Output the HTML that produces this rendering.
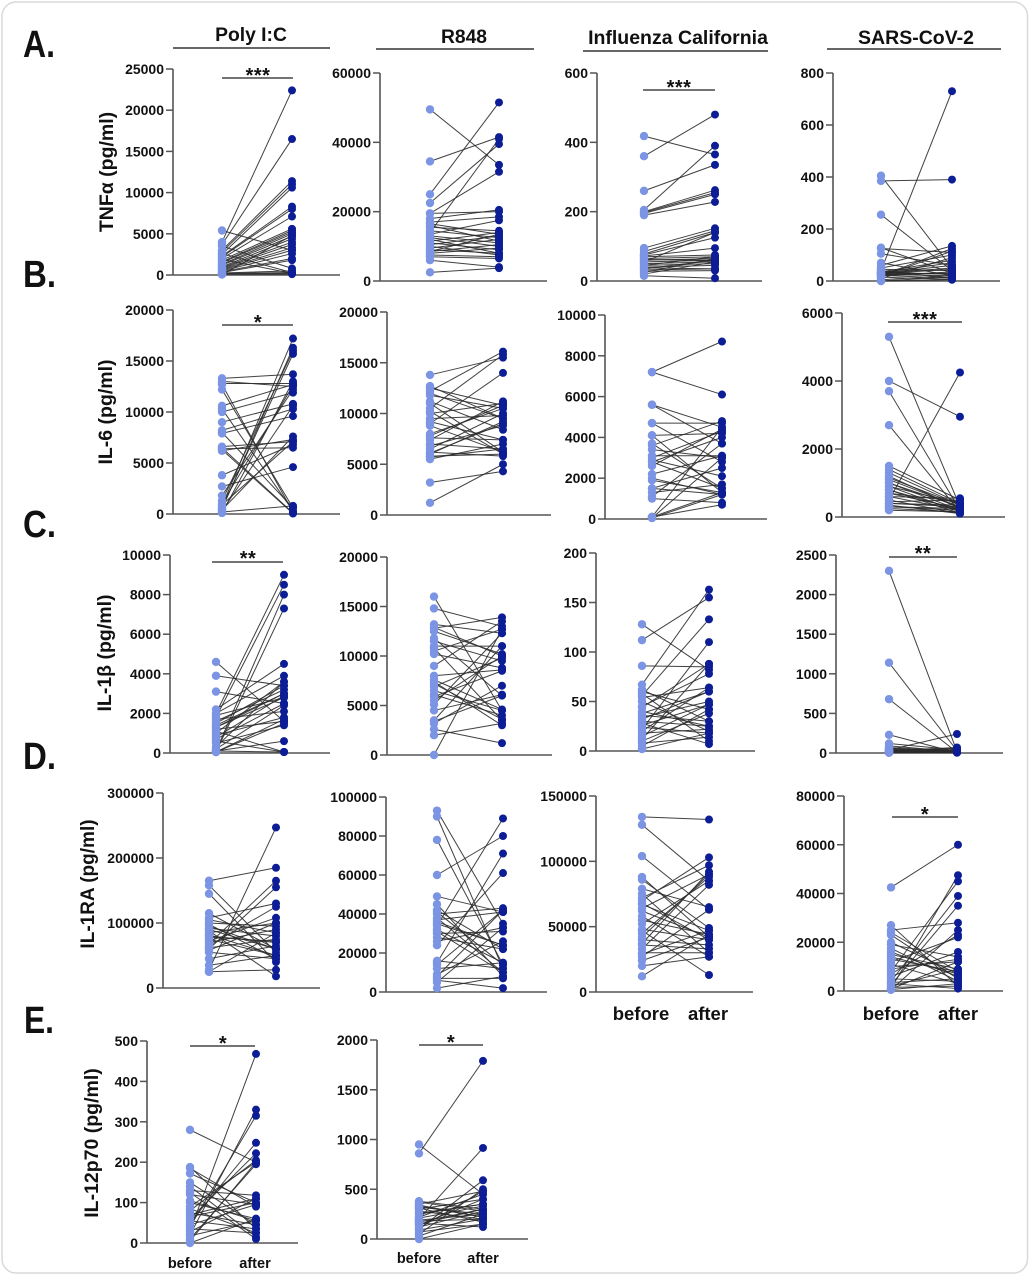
<!DOCTYPE html>
<html><head><meta charset="utf-8"><style>
html,body{margin:0;padding:0;background:#fff;}
svg{display:block;font-family:"Liberation Sans",Arial,sans-serif;font-weight:bold;}
</style></head><body>
<svg id="s" width="1030" height="1276" viewBox="0 0 1030 1276" xmlns="http://www.w3.org/2000/svg">
<rect x="2" y="2" width="1025.5" height="1271" rx="14" fill="#fff" stroke="#d9d9d9" stroke-width="1.5"/>
<g id="plots"></g>
<g fill="#111">
<!-- panel letters -->
<text x="23" y="57" font-size="38" textLength="32" lengthAdjust="spacingAndGlyphs">A.</text>
<text x="23" y="287" font-size="38" textLength="33" lengthAdjust="spacingAndGlyphs">B.</text>
<text x="23" y="537" font-size="38" textLength="33" lengthAdjust="spacingAndGlyphs">C.</text>
<text x="23" y="769" font-size="38" textLength="33" lengthAdjust="spacingAndGlyphs">D.</text>
<text x="24" y="1033" font-size="38" textLength="30" lengthAdjust="spacingAndGlyphs">E.</text>
<!-- headers -->
<text x="251" y="41" font-size="19.3" text-anchor="middle">Poly I:C</text>
<text x="464" y="43" font-size="19.3" text-anchor="middle">R848</text>
<text x="678" y="44" font-size="19.5" text-anchor="middle">Influenza California</text>
<text x="916" y="44" font-size="19.5" text-anchor="middle">SARS-CoV-2</text>
<!-- y titles -->
<g transform="translate(107,172) rotate(-90)"><text x="0" y="6" font-size="19.5" text-anchor="middle">TNFα (pg/ml)</text></g>
<g transform="translate(106,412) rotate(-90)"><text x="0" y="6" font-size="19.5" text-anchor="middle">IL-6 (pg/ml)</text></g>
<g transform="translate(105,653) rotate(-90)"><text x="0" y="6" font-size="19.5" text-anchor="middle">IL-1β (pg/ml)</text></g>
<g transform="translate(88,884) rotate(-90)"><text x="0" y="6" font-size="19" text-anchor="middle">IL-1RA (pg/ml)</text></g>
<g transform="translate(92,1143) rotate(-90)"><text x="0" y="6" font-size="19.5" text-anchor="middle">IL-12p70 (pg/ml)</text></g>
<!-- tick labels -->
<g font-size="14" text-anchor="end">
<text x="164" y="280">0</text><text x="164" y="238.8">5000</text><text x="164" y="197.6">10000</text><text x="164" y="156.4">15000</text><text x="164" y="115.2">20000</text><text x="164" y="74">25000</text>
<text x="371" y="286">0</text><text x="371" y="216.7">20000</text><text x="371" y="147.3">40000</text><text x="371" y="78">60000</text>
<text x="588" y="286">0</text><text x="588" y="216.7">200</text><text x="588" y="147.3">400</text><text x="588" y="78">600</text>
<text x="824" y="286">0</text><text x="824" y="234">200</text><text x="824" y="182">400</text><text x="824" y="130">600</text><text x="824" y="78">800</text>
<text x="164" y="519">0</text><text x="164" y="468">5000</text><text x="164" y="417">10000</text><text x="164" y="366">15000</text><text x="164" y="315">20000</text>
<text x="378" y="520">0</text><text x="378" y="469.3">5000</text><text x="378" y="418.5">10000</text><text x="378" y="367.8">15000</text><text x="378" y="317">20000</text>
<text x="596" y="524">0</text><text x="596" y="483.2">2000</text><text x="596" y="442.4">4000</text><text x="596" y="401.6">6000</text><text x="596" y="360.8">8000</text><text x="596" y="320">10000</text>
<text x="833" y="522">0</text><text x="833" y="454">2000</text><text x="833" y="386">4000</text><text x="833" y="318">6000</text>
<text x="161" y="758">0</text><text x="161" y="718.4">2000</text><text x="161" y="678.8">4000</text><text x="161" y="639.2">6000</text><text x="161" y="599.6">8000</text><text x="161" y="560">10000</text>
<text x="378" y="760">0</text><text x="378" y="710.5">5000</text><text x="378" y="661">10000</text><text x="378" y="611.5">15000</text><text x="378" y="562">20000</text>
<text x="587" y="756">0</text><text x="587" y="706.5">50</text><text x="587" y="657">100</text><text x="587" y="607.5">150</text><text x="587" y="558">200</text>
<text x="827" y="758">0</text><text x="827" y="718.4">500</text><text x="827" y="678.8">1000</text><text x="827" y="639.2">1500</text><text x="827" y="599.6">2000</text><text x="827" y="560">2500</text>
<text x="154" y="993">0</text><text x="154" y="928">100000</text><text x="154" y="863">200000</text><text x="154" y="798">300000</text>
<text x="377" y="997">0</text><text x="377" y="958">20000</text><text x="377" y="919">40000</text><text x="377" y="880">60000</text><text x="377" y="841">80000</text><text x="377" y="802">100000</text>
<text x="587" y="997">0</text><text x="587" y="931.7">50000</text><text x="587" y="866.3">100000</text><text x="587" y="801">150000</text>
<text x="835" y="996">0</text><text x="835" y="947.3">20000</text><text x="835" y="898.5">40000</text><text x="835" y="849.8">60000</text><text x="835" y="801">80000</text>
<text x="138" y="1248">0</text><text x="138" y="1207.6">100</text><text x="138" y="1167.2">200</text><text x="138" y="1126.8">300</text><text x="138" y="1086.4">400</text><text x="138" y="1046">500</text>
<text x="368" y="1244">0</text><text x="368" y="1194.3">500</text><text x="368" y="1144.5">1000</text><text x="368" y="1094.8">1500</text><text x="368" y="1045">2000</text>
</g>
<!-- significance asterisks -->
<g font-size="20" text-anchor="middle" letter-spacing="0.5">
<text x="258" y="82">***</text>
<text x="679" y="94">***</text>
<text x="258" y="329">*</text>
<text x="925" y="326">***</text>
<text x="248" y="565">**</text>
<text x="923" y="560">**</text>
<text x="925" y="821">*</text>
<text x="223" y="1050">*</text>
<text x="451" y="1049">*</text>
</g>
<!-- before/after labels -->
<g font-size="18.5" text-anchor="middle">
<text x="641" y="1020">before</text><text x="708" y="1020">after</text>
<text x="891" y="1020">before</text><text x="958" y="1020">after</text>
</g>
<g font-size="14.5" text-anchor="middle">
<text x="190" y="1268">before</text><text x="255" y="1268">after</text>
<text x="419" y="1263">before</text><text x="483" y="1263">after</text>
</g>
</g>
<!-- header underlines and sig bars -->
<g stroke="#333" stroke-width="1.5">
<line x1="173" y1="48" x2="330" y2="48"/>
<line x1="376" y1="49" x2="534" y2="49"/>
<line x1="583" y1="51" x2="768" y2="51"/>
<line x1="827" y1="49" x2="1001" y2="49"/>
</g>
<g stroke="#222" stroke-width="1.2">
<line x1="222" y1="78" x2="293" y2="78"/>
<line x1="643" y1="90" x2="715" y2="90"/>
<line x1="222" y1="325" x2="293" y2="325"/>
<line x1="888" y1="322" x2="962" y2="322"/>
<line x1="212" y1="562" x2="283" y2="562"/>
<line x1="889" y1="557" x2="957" y2="557"/>
<line x1="892" y1="817" x2="958" y2="817"/>
<line x1="190" y1="1046" x2="255" y2="1046"/>
<line x1="419" y1="1045" x2="483" y2="1045"/>
</g>
</svg>
<script>
var P=[
{ax:173,x1:340,yt:69,y0:275,max:25000,step:5000,bx:222,af:292,d:[[5400,3000],[4000,22400],[3700,16500],[3500,800],[3000,11400],[2800,11000],[2500,10600],[2300,8300],[2200,8000],[2000,7100],[1800,5600],[1600,5400],[1500,5200],[1300,5000],[1200,4700],[1000,4400],[900,4000],[800,3700],[700,3300],[600,3000],[500,2600],[400,2000],[300,1800],[250,500],[200,300],[150,200],[100,100],[50,4800],[2600,300],[1900,200]]},
{ax:380,x1:547,yt:73,y0:281,max:60000,step:20000,bx:430,af:499,d:[[49500,33500],[34500,41500],[25000,51500],[22500,39500],[19500,31500],[19500,20000],[18000,20500],[17000,18500],[16500,13500],[15500,14500],[14500,12500],[13500,17500],[13000,11000],[12500,10000],[11500,14000],[11000,9000],[10500,13000],[10000,7500],[9500,12000],[9000,8000],[8500,10500],[8000,9500],[7500,7000],[7000,6500],[6000,4000],[2500,3700],[14000,41000],[16000,11500],[8500,13500],[12000,8000]]},
{ax:597,x1:762,yt:73,y0:281,max:600,step:200,bx:644,af:715,d:[[418,365],[360,480],[260,335],[205,390],[200,262],[198,255],[195,250],[190,228],[95,152],[85,145],[78,140],[75,125],[72,95],[70,75],[65,70],[60,65],[55,60],[50,55],[45,50],[40,45],[35,60],[32,35],[28,30],[25,65],[20,55],[15,8],[45,70],[55,140],[38,35],[62,60]]},
{ax:833,x1:1000,yt:73,y0:281,max:800,step:200,bx:881,af:952,d:[[405,50],[385,390],[255,40],[128,30],[125,110],[105,60],[70,20],[60,135],[50,100],[45,40],[40,730],[35,80],[32,70],[30,50],[28,30],[25,20],[22,10],[20,125],[18,115],[15,5],[10,90],[5,20],[0,15],[30,60],[25,30],[35,25],[40,10],[28,45],[20,35],[0,5]]},
{ax:173,x1:340,yt:310,y0:514,max:20000,step:5000,bx:222,af:293,d:[[13300,13700],[13000,12500],[12700,200],[12200,600],[10600,12700],[10300,300],[10000,11900],[9000,10800],[8200,10300],[7900,9600],[6600,7100],[6400,6500],[6200,7300],[6500,100],[3800,6800],[2700,4600],[1800,12200],[1300,16000],[800,17200],[600,15700],[500,16300],[300,10600],[100,13000],[200,800],[400,7600],[900,7100],[1000,12600],[6300,50],[8000,600],[12800,12800]]},
{ax:387,x1:551,yt:312,y0:515,max:20000,step:5000,bx:430,af:503,d:[[13800,15500],[12700,9500],[12200,16100],[11800,10500],[11200,8400],[10500,15800],[10000,11000],[9500,9800],[9000,14000],[8800,6200],[7800,10800],[7400,11200],[7000,6500],[6500,10000],[6200,5800],[6000,9200],[5800,6000],[5500,7000],[3200,4300],[1200,5000],[12000,9500],[9200,7400],[6800,8800],[10200,6000],[8000,10500],[6100,9000],[11000,6200],[5700,6500],[7600,7400],[12500,10800]]},
{ax:605,x1:767,yt:315,y0:519,max:10000,step:2000,bx:652,af:722,d:[[7200,8700],[7200,6100],[5600,4500],[5600,3700],[4700,4700],[4700,2800],[4100,4200],[4100,1300],[3600,4800],[3400,3000],[3000,4300],[2900,2100],[2800,1500],[2800,4000],[2200,3100],[2000,1200],[1500,2500],[1300,1700],[1000,800],[1100,3700],[100,4500],[100,1300],[50,1200],[50,3000],[100,700],[3700,1500],[3100,3100],[1900,1300],[2600,4400],[1500,1200]]},
{ax:842,x1:1005,yt:313,y0:517,max:6000,step:2000,bx:889,af:960,d:[[5300,300],[4000,2950],[3700,200],[2700,150],[1500,500],[1400,400],[1300,350],[1200,250],[1100,300],[1000,200],[900,150],[800,100],[700,450],[600,550],[500,4250],[400,300],[300,200],[200,150],[1000,300],[900,400],[700,250],[600,200],[500,100],[400,350],[300,250],[250,150],[1150,350],[800,200],[450,500],[350,100]]},
{ax:170,x1:330,yt:555,y0:753,max:10000,step:2000,bx:216,af:284,d:[[4600,1600],[3900,3400],[3100,2500],[2200,4500],[2000,9000],[1800,8500],[1600,3200],[1400,3000],[1300,2800],[1100,50],[900,1800],[700,2500],[500,1400],[300,3600],[100,8000],[50,7300],[50,1700],[100,600],[2000,3900],[1500,3400],[1200,1600],[800,2900],[600,50],[1900,2800],[1000,3600],[50,1500],[200,2400],[1700,2100],[100,50],[1300,3000]]},
{ax:387,x1:552,yt:557,y0:755,max:20000,step:5000,bx:434,af:502,d:[[16000,4500],[14800,13000],[13200,12300],[12800,13900],[12500,10200],[11800,6000],[11500,9500],[10800,3500],[10500,12700],[10200,8800],[9000,13500],[7600,4600],[7200,3600],[6900,9800],[6100,4000],[5900,8500],[5100,12300],[4500,6100],[3500,11000],[3200,7000],[2600,1200],[2000,3200],[0,12700],[12900,10000],[7400,3000],[5500,10000],[3400,6000],[11000,11000],[8000,8600],[6500,4500]]},
{ax:596,x1:755,yt:553,y0:751,max:200,step:50,bx:642,af:709,d:[[128,82],[112,155],[86,85],[67,163],[60,42],[56,133],[54,64],[45,78],[38,60],[34,50],[30,25],[26,47],[22,110],[18,22],[12,88],[8,14],[2,18],[10,38],[36,30],[50,20],[58,10],[28,7],[32,60],[20,64],[40,25],[15,47],[5,42],[24,18],[44,88],[62,30]]},
{ax:836,x1:1003,yt:555,y0:753,max:2500,step:500,bx:889,af:957,d:[[2300,20],[1140,30],[680,10],[230,5],[120,40],[60,10],[40,240],[30,70],[20,10],[10,5],[5,20],[25,10],[15,5],[8,30],[50,20],[35,15],[12,8],[70,25],[18,60],[45,12],[3,4],[28,35],[90,18],[22,50],[6,10]]},
{ax:163,x1:320,yt:793,y0:988,max:300000,step:100000,bx:209,af:276,d:[[165000,185000],[158000,55000],[145000,40000],[115000,60000],[108000,130000],[100000,95000],[98000,45000],[92000,80000],[85000,100000],[80000,70000],[75000,50000],[70000,90000],[65000,125000],[60000,155000],[45000,65000],[28000,247000],[25000,28000],[25000,85000],[62000,75000],[72000,108000],[88000,18000],[95000,60000],[68000,165000],[55000,45000],[105000,85000],[82000,50000],[58000,100000],[78000,72000],[90000,60000],[35000,50000]]},
{ax:386,x1:547,yt:797,y0:992,max:100000,step:20000,bx:437,af:503,d:[[93000,35000],[90000,12000],[78000,14000],[60000,80000],[49000,41000],[42000,22000],[40000,43000],[38000,10000],[36000,24000],[34000,89000],[32000,15000],[30000,31000],[24000,61000],[15000,71000],[14000,42000],[9000,26000],[7000,7000],[5000,33000],[2000,8000],[6000,2000],[41000,14000],[35000,24000],[28000,22000],[16000,12000],[31000,10000],[37000,41000],[8000,42000],[26000,33000],[12000,15000],[45000,8000]]},
{ax:596,x1:753,yt:796,y0:992,max:150000,step:50000,bx:642,af:709,d:[[134000,132000],[128000,85000],[104000,63000],[88000,42000],[86000,49000],[79000,65000],[72000,97000],[70000,103000],[67000,47000],[64000,90000],[55000,44000],[48000,40000],[45000,88000],[40000,36000],[37000,92000],[33000,82000],[30000,30000],[27000,63000],[24000,42000],[20000,27000],[12000,44000],[47000,13000],[36000,33000],[68000,40000],[52000,85000],[29000,47000],[42000,90000],[75000,30000],[58000,27000],[62000,42000]]},
{ax:844,x1:1003,yt:796,y0:991,max:80000,step:20000,bx:891,af:958,d:[[42500,60000],[27000,2000],[25000,28000],[23000,5000],[20000,7000],[17500,4000],[15000,9000],[12000,22000],[10000,12000],[8000,45000],[6000,16000],[4000,39000],[2500,35000],[1000,47500],[500,25000],[19000,14000],[11000,3000],[13000,8000],[7000,23000],[3000,1000],[16000,6000],[9000,13000],[5000,4000],[2000,9000],[1500,2000],[14000,7000],[24000,8000],[800,12000],[3500,5000],[600,3000]]},
{ax:147,x1:298,yt:1041,y0:1243,max:500,step:100,bx:190,af:256,d:[[280,200],[188,35],[172,100],[150,45],[130,118],[120,95],[105,55],[85,25],[80,205],[70,110],[60,222],[50,248],[40,315],[30,468],[20,330],[10,195],[0,60],[185,90],[140,15],[125,10],[90,200],[75,45],[65,100],[55,35],[45,95],[35,25],[28,110],[18,55],[100,60],[5,200]]},
{ax:377,x1:528,yt:1040,y0:1239,max:2000,step:500,bx:419,af:483,d:[[950,450],[860,1790],[380,300],[350,480],[320,250],[300,400],[250,350],[200,915],[180,200],[150,300],[100,590],[50,500],[0,150],[370,280],[340,220],[310,170],[280,200],[260,350],[220,450],[190,250],[170,300],[160,120],[140,400],[120,280],[90,200],[70,150],[30,250],[330,220],[210,330],[110,480]]}
];
var NS="http://www.w3.org/2000/svg";
var G=document.getElementById("plots");
function el(t,a,p){var e=document.createElementNS(NS,t);for(var k in a)e.setAttribute(k,a[k]);(p||G).appendChild(e);return e;}
P.forEach(function(p){
  var sc=(p.y0-p.yt)/p.max;
  function Y(v){return p.y0-v*sc;}
  var g=el("g",{});
  // axes
  el("line",{x1:p.ax,y1:p.yt,x2:p.ax,y2:p.y0,stroke:"#555","stroke-width":1.6},g);
  el("line",{x1:p.ax,y1:p.y0,x2:p.x1,y2:p.y0,stroke:"#555","stroke-width":1.6},g);
  for(var v=0;v<=p.max+1e-9;v+=p.step){
    el("line",{x1:p.ax-7,y1:Y(v),x2:p.ax,y2:Y(v),stroke:"#555","stroke-width":1.5},g);
  }
  var lg=el("g",{stroke:"#2b2b2b","stroke-width":1,"stroke-opacity":0.9},g);
  p.d.forEach(function(d){el("line",{x1:p.bx,y1:Y(d[0]),x2:p.af,y2:Y(d[1])},lg);});
  var bg=el("g",{fill:"#7b94e4"},g);
  p.d.forEach(function(d){el("circle",{cx:p.bx,cy:Y(d[0]),r:4.2},bg);});
  var ag=el("g",{fill:"#0c1d96"},g);
  p.d.forEach(function(d){el("circle",{cx:p.af,cy:Y(d[1]),r:4},ag);});
});
</script>
</body></html>
